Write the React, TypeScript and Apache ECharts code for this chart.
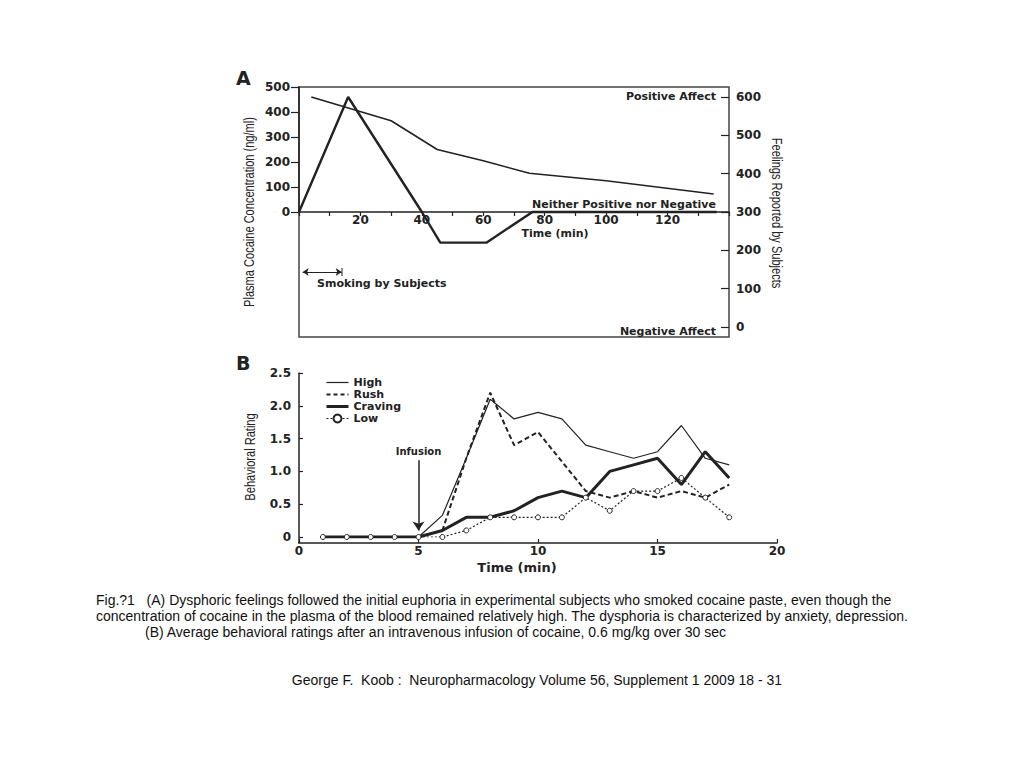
import React, { useEffect, useRef } from 'react';
import * as echarts from 'echarts';

// Panel A
const plasmaTimes = [4, 30, 45, 60, 75, 100, 135];
const plasmaValues = [460, 365, 250, 205, 155, 125, 72];
const feelTimes = [0, 16, 40, 46, 61, 76, 136];
const feelValues = [300, 600, 300, 220, 220, 300, 300];

// Panel B
const timeB = [1, 2, 3, 4, 5, 6, 7, 8, 9, 10, 11, 12, 13, 14, 15, 16, 17, 18];
const highValues = [0, 0, 0, 0, 0, 0.33, 1.2, 2.1, 1.8, 1.9, 1.8, 1.4, 1.3, 1.2, 1.3, 1.7, 1.2, 1.1];
const rushValues = [0, 0, 0, 0, 0, 0.1, 1.2, 2.2, 1.4, 1.6, 1.15, 0.7, 0.6, 0.7, 0.6, 0.7, 0.6, 0.8];
const cravingValues = [0, 0, 0, 0, 0, 0.1, 0.3, 0.3, 0.4, 0.6, 0.7, 0.6, 1.0, 1.1, 1.2, 0.8, 1.3, 0.9];
const lowValues = [0, 0, 0, 0, 0, 0, 0.1, 0.3, 0.3, 0.3, 0.3, 0.6, 0.4, 0.7, 0.7, 0.9, 0.6, 0.3];

const captionLines = [
  'Fig.?1   (A) Dysphoric feelings followed the initial euphoria in experimental subjects who smoked cocaine paste, even though the',
  'concentration of cocaine in the plasma of the blood remained relatively high. The dysphoria is characterized by anxiety, depression.',
  '(B) Average behavioral ratings after an intravenous infusion of cocaine, 0.6 mg/kg over 30 sec',
];
const footer = 'George F.  Koob :  Neuropharmacology Volume 56, Supplement 1 2009 18 - 31';

const INK = '#222';
const BOLD = { fontFamily: 'DejaVu Sans', fontWeight: 'bold' as const, color: INK };
const NAME_FONT = '14px "Liberation Sans"';

function zip(xs: number[], ys: number[]) {
  return xs.map((x, i) => [x, ys[i]]);
}

export default function App() {
  const ref = useRef<HTMLDivElement>(null);
  useEffect(() => {
    const chart = echarts.init(ref.current!, null, { renderer: 'svg' });
    const axisLine = { lineStyle: { color: INK, width: 1.5 } };
    const tickLine = { color: INK, width: 1.2 };
    const hiddenX = (gridIndex: number, max: number) => ({ gridIndex, type: 'value', min: 0, max, show: false, splitLine: { show: false } });
    const option: any = {
      animation: false,
      backgroundColor: '#fff',
      grid: [
        { left: 299, top: 87, width: 430, height: 250, show: true, borderColor: '#444', borderWidth: 1.5, backgroundColor: 'transparent' },
        { left: 299, top: 87, width: 430, height: 125 },
        { left: 299, top: 97, width: 430, height: 230 },
        { left: 299, top: 373, width: 478, height: 170 },
        { left: 299, top: 373, width: 478, height: 164 },
      ],
      xAxis: [
        hiddenX(0, 140),
        {
          gridIndex: 1, type: 'value', min: 0, max: 140, interval: 10,
          axisLine: { show: true, onZero: false, ...axisLine },
          axisTick: { show: true, inside: false, length: 4, lineStyle: tickLine },
          axisLabel: { ...BOLD, fontSize: 12, margin: 2, formatter: (v: number) => (v >= 20 && v <= 120 && v % 20 === 0 ? String(v) : '') },
          splitLine: { show: false },
        },
        hiddenX(2, 140),
        {
          gridIndex: 3, type: 'value', min: 0, max: 20, interval: 5,
          axisLine: { show: true, onZero: false, ...axisLine },
          axisTick: { show: true, inside: true, length: 4, lineStyle: tickLine },
          axisLabel: { ...BOLD, fontSize: 12, margin: 2 },
          splitLine: { show: false },
        },
        hiddenX(4, 20),
      ],
      yAxis: [
        { gridIndex: 0, type: 'value', min: 0, max: 1, show: false, splitLine: { show: false } },
        {
          gridIndex: 1, type: 'value', position: 'left', min: 0, max: 500, interval: 100,
          axisLine: { show: true, onZero: false, ...axisLine },
          axisTick: { show: true, inside: false, length: 8, lineStyle: tickLine },
          axisLabel: { ...BOLD, fontSize: 12, margin: 9 },
          splitLine: { show: false },
        },
        {
          gridIndex: 2, type: 'value', position: 'right', min: 0, max: 600, interval: 100,
          axisLine: { show: false, onZero: false },
          axisTick: { show: true, inside: true, length: 8, lineStyle: tickLine },
          axisLabel: { ...BOLD, fontSize: 12, margin: 7 },
          splitLine: { show: false },
        },
        {
          gridIndex: 3, type: 'value', position: 'left', min: 0, max: 1,
          axisLine: { show: true, onZero: false, ...axisLine },
          axisTick: { show: false }, axisLabel: { show: false }, splitLine: { show: false },
        },
        {
          gridIndex: 4, type: 'value', position: 'left', min: 0, max: 2.5, interval: 0.5,
          axisLine: { show: false, onZero: false },
          axisTick: { show: true, inside: true, length: 4, lineStyle: tickLine },
          axisLabel: { ...BOLD, fontSize: 12, margin: 8, formatter: (v: number) => (v === 0 ? '0' : v.toFixed(1)) },
          splitLine: { show: false },
        },
      ],
      legend: {
        left: 325, top: 377, padding: 0, orient: 'vertical', itemWidth: 22, itemHeight: 10, itemGap: 1,
        textStyle: { ...BOLD, fontSize: 11 },
        data: [
          { name: 'High', itemStyle: { opacity: 0 }, lineStyle: { width: 1.2, color: INK } },
          { name: 'Rush', itemStyle: { opacity: 0 }, lineStyle: { width: 2, color: INK, type: [4, 3] } },
          { name: 'Craving', itemStyle: { opacity: 0 }, lineStyle: { width: 3, color: INK } },
          { name: 'Low', lineStyle: { width: 1.2, color: INK, type: [2, 2] } },
        ],
      },
      series: [
        {
          name: 'Plasma', type: 'line', xAxisIndex: 1, yAxisIndex: 1, symbol: 'none',
          data: zip(plasmaTimes, plasmaValues), lineStyle: { color: INK, width: 1.6 },
        },
        {
          name: 'Feelings', type: 'line', xAxisIndex: 2, yAxisIndex: 2, symbol: 'none',
          data: zip(feelTimes, feelValues), lineStyle: { color: INK, width: 2.4 },
          markLine: {
            silent: true, symbol: ['arrow', 'arrow'], symbolSize: [6, 6],
            lineStyle: { color: INK, width: 1, type: 'solid' }, label: { show: false },
            data: [[{ coord: [1.2, 143.5] }, { coord: [13.9, 143.5] }]],
          },
        },
        {
          name: 'High', type: 'line', xAxisIndex: 4, yAxisIndex: 4, symbol: 'none',
          data: zip(timeB, highValues), lineStyle: { color: INK, width: 1.2 }, itemStyle: { color: INK },
          markLine: {
            silent: true, symbol: ['none', 'arrow'], symbolSize: 9,
            lineStyle: { color: INK, width: 1.5, type: 'solid' },
            label: { show: true, position: 'start', formatter: 'Infusion', ...BOLD, fontSize: 10, distance: 4 },
            data: [[{ coord: [5, 1.17] }, { coord: [5, 0.1] }]],
          },
        },
        {
          name: 'Rush', type: 'line', xAxisIndex: 4, yAxisIndex: 4, symbol: 'none',
          data: zip(timeB, rushValues), lineStyle: { color: INK, width: 2, type: [5, 3] }, itemStyle: { color: INK },
        },
        {
          name: 'Craving', type: 'line', xAxisIndex: 4, yAxisIndex: 4, symbol: 'none',
          data: zip(timeB, cravingValues), lineStyle: { color: INK, width: 3 }, itemStyle: { color: INK },
        },
        {
          name: 'Low', type: 'line', xAxisIndex: 4, yAxisIndex: 4, symbol: 'circle', symbolSize: 5, showSymbol: true,
          data: zip(timeB, lowValues), lineStyle: { color: INK, width: 1.2, type: [2, 2] },
          itemStyle: { color: '#fff', borderColor: INK, borderWidth: 1 },
        },
      ],
      graphic: [
        { type: 'text', left: 236, top: 68, style: { text: 'A', font: 'bold 19px "DejaVu Sans"', fill: INK } },
        { type: 'text', left: 236, top: 353, style: { text: 'B', font: 'bold 19px "DejaVu Sans"', fill: INK } },
        { type: 'text', x: 250, y: 212, rotation: Math.PI / 2, scaleX: 0.79, style: { text: 'Plasma Cocaine Concentration (ng/ml)', font: NAME_FONT, fill: INK, align: 'center', verticalAlign: 'middle' } },
        { type: 'text', x: 776, y: 213, rotation: -Math.PI / 2, scaleX: 0.79, style: { text: 'Feelings Reported by Subjects', font: NAME_FONT, fill: INK, align: 'center', verticalAlign: 'middle' } },
        { type: 'text', x: 251, y: 457, rotation: Math.PI / 2, scaleX: 0.79, style: { text: 'Behavioral Rating', font: NAME_FONT, fill: INK, align: 'center', verticalAlign: 'middle' } },
        { type: 'text', x: 716, y: 96, style: { text: 'Positive Affect', font: 'bold 11px "DejaVu Sans"', fill: INK, align: 'right', verticalAlign: 'middle' } },
        { type: 'text', x: 716, y: 204, style: { text: 'Neither Positive nor Negative', font: 'bold 11px "DejaVu Sans"', fill: INK, align: 'right', verticalAlign: 'middle' } },
        { type: 'text', x: 716, y: 331, style: { text: 'Negative Affect', font: 'bold 11px "DejaVu Sans"', fill: INK, align: 'right', verticalAlign: 'middle' } },
        { type: 'text', x: 555, y: 233, style: { text: 'Time (min)', font: 'bold 11px "DejaVu Sans"', fill: INK, align: 'center', verticalAlign: 'middle' } },
        { type: 'text', x: 317, y: 283, style: { text: 'Smoking by Subjects', font: 'bold 11px "DejaVu Sans"', fill: INK, align: 'left', verticalAlign: 'middle' } },
        { type: 'line', shape: { x1: 342, y1: 268, x2: 342, y2: 276 }, style: { stroke: INK, lineWidth: 1 } },
        { type: 'text', x: 517, y: 567, style: { text: 'Time (min)', font: 'bold 13px "DejaVu Sans"', fill: INK, align: 'center', verticalAlign: 'middle' } },
        { type: 'text', x: 96, y: 600, style: { text: captionLines[0], font: '14px "Liberation Sans"', fill: '#111', align: 'left', verticalAlign: 'middle' } },
        { type: 'text', x: 96, y: 616, style: { text: captionLines[1], font: '14px "Liberation Sans"', fill: '#111', align: 'left', verticalAlign: 'middle' } },
        { type: 'text', x: 145, y: 632, style: { text: captionLines[2], font: '14px "Liberation Sans"', fill: '#111', align: 'left', verticalAlign: 'middle' } },
        { type: 'text', x: 537, y: 680, style: { text: footer, font: '14px "Liberation Sans"', fill: '#111', align: 'center', verticalAlign: 'middle' } },
      ],
    };
    chart.setOption(option);
    return () => chart.dispose();
  }, []);
  return <div ref={ref} style={{ position: 'fixed', left: 0, top: 0, width: 1024, height: 768, background: '#fff' }} />;
}
